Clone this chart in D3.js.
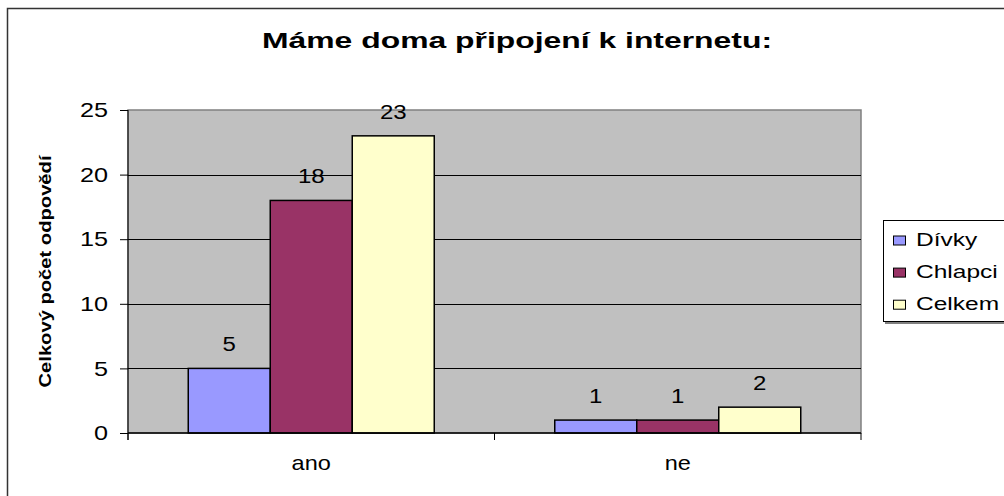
<html>
<head>
<script src="https://d3js.org/d3.v7.min.js"></script>
<style>
body { margin: 0; background: #fff; }
svg { display: block; }
text { font-family: "Liberation Sans", Arial, sans-serif; fill: #000; }
</style>
</head>
<body>
<div id="plot"></div>
<script>
var width = 1004;
var height = 496;

var categories = ["ano", "ne"];
var series = ["Dívky", "Chlapci", "Celkem"];
var colors = ["#9999FF", "#993366", "#FFFFCC"];
var values = [
  [5, 18, 23],   // ano
  [1, 1, 2]      // ne
];
var yTicks = [0, 5, 10, 15, 20, 25];

var plot = { left: 128, right: 861, top: 110, bottom: 433 };

// the original text is drawn wide, so stretch the glyphs horizontally
function stretch(sel, k) {
  sel.each(function () {
    var len = this.getComputedTextLength();
    d3.select(this).attr("textLength", len * k).attr("lengthAdjust", "spacingAndGlyphs");
  });
}

var svg = d3.select("#plot").append("svg")
  .attr("width", width).attr("height", height);

// outer chart border (only top and left are visible in the picture)
svg.append("rect")
  .attr("x", 7.5).attr("y", 8.5)
  .attr("width", 1020).attr("height", 500)
  .style("fill", "#fff").style("stroke", "#333").style("stroke-width", 1.5);

svg.append("text")
  .attr("x", 517).attr("y", 48)
  .attr("text-anchor", "middle")
  .attr("textLength", 510).attr("lengthAdjust", "spacingAndGlyphs")
  .style("font-size", "22px").style("font-weight", "bold")
  .text("Máme doma připojení k internetu:");

var yScale = d3.scaleLinear().domain([0, 25]).range([plot.bottom, plot.top]);
var x0 = d3.scaleBand().domain(categories).range([plot.left, plot.right]);
var groupWidth = 246;
var x1 = d3.scaleBand().domain(series).range([0, groupWidth]);

// plot area
svg.append("rect")
  .attr("x", plot.left).attr("y", plot.top)
  .attr("width", plot.right - plot.left).attr("height", plot.bottom - plot.top)
  .style("fill", "#C0C0C0").style("stroke", "#808080").style("stroke-width", 1.5);

// gridlines
svg.append("g").selectAll("line").data(yTicks.slice(1, -1)).enter().append("line")
  .attr("x1", plot.left).attr("x2", plot.right)
  .attr("y1", function (d) { return Math.round(yScale(d)) + 0.5; })
  .attr("y2", function (d) { return Math.round(yScale(d)) + 0.5; })
  .style("stroke", "#000").style("stroke-width", 1);

// bars
var groups = svg.append("g").selectAll("g").data(values).enter().append("g")
  .attr("transform", function (d, i) {
    return "translate(" + (x0(categories[i]) + (x0.bandwidth() - groupWidth) / 2) + ",0)";
  });

groups.selectAll("rect").data(function (d) { return d; }).enter().append("rect")
  .attr("x", function (d, j) { return x1(series[j]); })
  .attr("y", function (d) { return yScale(d); })
  .attr("width", x1.bandwidth())
  .attr("height", function (d) { return yScale(0) - yScale(d); })
  .style("fill", function (d, j) { return colors[j]; })
  .style("stroke", "#000").style("stroke-width", 1.5);

groups.selectAll("text").data(function (d) { return d; }).enter().append("text")
  .attr("x", function (d, j) { return x1(series[j]) + x1.bandwidth() / 2; })
  .attr("y", function (d) { return yScale(d) - 17; })
  .attr("text-anchor", "middle")
  .style("font-size", "20px")
  .text(function (d) { return d; })
  .call(stretch, 1.2);

// y axis
var yAxis = d3.axisLeft(yScale).tickValues(yTicks).tickSize(8).tickPadding(12);
var yg = svg.append("g")
  .attr("transform", "translate(" + plot.left + ",0)")
  .call(yAxis);
yg.select(".domain").remove();
yg.selectAll("line").style("stroke", "#000");
yg.selectAll("text")
  .attr("font-size", null).attr("font-family", null)
  .style("font-size", "21px")
  .call(stretch, 1.2);
svg.append("line")
  .attr("x1", plot.left).attr("x2", plot.left)
  .attr("y1", plot.top).attr("y2", plot.bottom + 7)
  .style("stroke", "#000").style("stroke-width", 1);

// x axis
svg.append("line")
  .attr("x1", plot.left).attr("x2", plot.right)
  .attr("y1", plot.bottom).attr("y2", plot.bottom)
  .style("stroke", "#000").style("stroke-width", 1.5);
svg.append("g").selectAll("line").data([0, 1, 2]).enter().append("line")
  .attr("x1", function (d) { return plot.left + d * x0.step(); })
  .attr("x2", function (d) { return plot.left + d * x0.step(); })
  .attr("y1", plot.bottom).attr("y2", plot.bottom + 7)
  .style("stroke", "#000");
svg.append("g").selectAll("text").data(categories).enter().append("text")
  .attr("x", function (d) { return x0(d) + x0.bandwidth() / 2; })
  .attr("y", 470)
  .attr("text-anchor", "middle")
  .style("font-size", "21px")
  .text(function (d) { return d; })
  .call(stretch, 1.12);

// y axis title
svg.append("text")
  .attr("transform", "translate(51," + ((plot.top + plot.bottom) / 2) + ") rotate(-90)")
  .attr("text-anchor", "middle")
  .attr("textLength", 232).attr("lengthAdjust", "spacingAndGlyphs")
  .style("font-size", "16px").style("font-weight", "bold")
  .text("Celkový počet odpovědí");

// legend
var legend = svg.append("g");
legend.append("rect")
  .attr("x", 885).attr("y", 222).attr("width", 140).attr("height", 102)
  .style("fill", "#808080");
legend.append("rect")
  .attr("x", 883.5).attr("y", 220.5).attr("width", 140).attr("height", 101)
  .style("fill", "#fff").style("stroke", "#000").style("stroke-width", 1);
var items = legend.selectAll("g.item").data(series).enter().append("g")
  .attr("class", "item")
  .attr("transform", function (d, i) { return "translate(893," + (240.5 + i * 32.1) + ")"; });
items.append("rect")
  .attr("x", 0.5).attr("y", -4.5).attr("width", 12).attr("height", 9)
  .style("fill", function (d, i) { return colors[i]; })
  .style("stroke", "#000").style("stroke-width", 1);
items.append("text")
  .attr("x", 23).attr("y", 5)
  .style("font-size", "17.5px")
  .text(function (d) { return d; })
  .call(stretch, 1.4);
</script>
</body>
</html>
